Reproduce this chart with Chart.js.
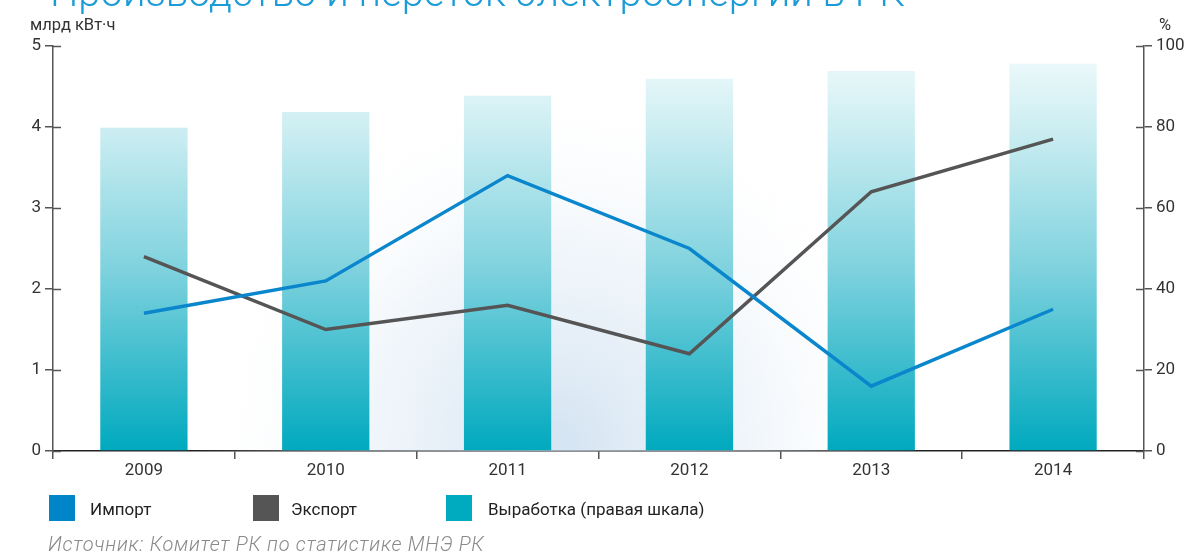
<!DOCTYPE html>
<html>
<head>
<meta charset="utf-8">
<script src="https://cdn.jsdelivr.net/npm/chart.js@4"></script>
<style>
  html, body { margin: 0; padding: 0; background: #fff; }
  #wrap { position: relative; width: 1189px; height: 555px; overflow: hidden; }
  #chart { position: absolute; left: 0; top: 0; }
  .txt { position: absolute; white-space: nowrap; font-family: 'Roboto', sans-serif; color: #333; line-height: 20px; }
  #title { left: 50px; top: -31px; font-weight: 300; font-size: 40px; line-height: 48px; color: #1b9bd7; }
  .unit { top: 15px; font-size: 16.5px; }
  .leg { top: 499px; font-size: 17px; color: #222; }
  .box { position: absolute; top: 495px; width: 26px; height: 26px; }
  #source { left: 48px; top: 534px; font-size: 20px; letter-spacing: 0.7px; font-style: italic; font-weight: 300; color: #8a8a8a; }
</style>
</head>
<body>
<div id="wrap">
  <canvas id="chart" width="1189" height="555"></canvas>
  <div class="txt" id="title">Производство и переток электроэнергии в РК</div>
  <div class="txt unit" style="left:30px">млрд кВт·ч</div>
  <div class="txt unit" style="left:1159px">%</div>
  <div class="box" style="left:49px;background:#0085c8"></div>
  <div class="txt leg" style="left:90px">Импорт</div>
  <div class="box" style="left:253px;background:#555555"></div>
  <div class="txt leg" style="left:291px">Экспорт</div>
  <div class="box" style="left:446px;background:#00abbf"></div>
  <div class="txt leg" style="left:488px">Выработка (правая шкала)</div>
  <div class="txt" id="source">Источник: Комитет РК по статистике МНЭ РК</div>
</div>
<script>
var years = ['2009', '2010', '2011', '2012', '2013', '2014'];
var importVals = [1.7, 2.1, 3.4, 2.5, 0.8, 1.75];
var exportVals = [2.4, 1.5, 1.8, 1.2, 3.2, 3.85];
var outputPct = [79.8, 83.7, 87.7, 91.9, 93.8, 95.6];

var tickFont = { family: "'Roboto', sans-serif", size: 17 };
var axisColor = '#555555';

// soft bluish glow behind the plot, plus tick marks pointing into the area
var decor = {
  id: 'decor',
  beforeDatasetsDraw: function(chart) {
    var ctx = chart.ctx, a = chart.chartArea;
    ctx.save();
    ctx.beginPath();
    ctx.rect(a.left, a.top, a.right - a.left, a.bottom - a.top);
    ctx.clip();
    var g = ctx.createRadialGradient(560, 440, 10, 560, 440, 360);
    g.addColorStop(0, 'rgba(200,220,238,0.75)');
    g.addColorStop(0.5, 'rgba(225,236,246,0.5)');
    g.addColorStop(1, 'rgba(255,255,255,0)');
    ctx.fillStyle = g;
    ctx.fillRect(a.left, a.top, a.right - a.left, a.bottom - a.top);
    ctx.restore();
  },
  afterDraw: function(chart) {
    var ctx = chart.ctx;
    var y = chart.scales.y, y1 = chart.scales.y1;
    ctx.save();
    ctx.strokeStyle = axisColor;
    ctx.lineWidth = 1.5;
    y.ticks.forEach(function(t) {
      var p = Math.round(y.getPixelForValue(t.value)) + 0.5;
      ctx.beginPath(); ctx.moveTo(y.right, p); ctx.lineTo(y.right + 8, p); ctx.stroke();
    });
    y1.ticks.forEach(function(t) {
      var p = Math.round(y1.getPixelForValue(t.value)) + 0.5;
      ctx.beginPath(); ctx.moveTo(y1.left - 8, p); ctx.lineTo(y1.left, p); ctx.stroke();
    });
    ctx.restore();
  }
};

var ctx = document.getElementById('chart').getContext('2d');
var chart = new Chart(ctx, {
  type: 'bar',
  data: {
    labels: years,
    datasets: [{
      type: 'line',
      label: 'Импорт',
      data: importVals,
      yAxisID: 'y',
      borderColor: '#0a86cc',
      borderWidth: 3.5,
      pointRadius: 0,
      tension: 0,
      order: 1
    }, {
      type: 'line',
      label: 'Экспорт',
      data: exportVals,
      yAxisID: 'y',
      borderColor: '#555555',
      borderWidth: 3.5,
      pointRadius: 0,
      tension: 0,
      order: 1
    }, {
      type: 'bar',
      label: 'Выработка (правая шкала)',
      data: outputPct,
      yAxisID: 'y1',
      categoryPercentage: 1,
      barPercentage: 0.48,
      backgroundColor: function(c) {
        var a = c.chart.chartArea;
        if (!a) return '#00abbf';
        var g = c.chart.ctx.createLinearGradient(0, a.top, 0, a.bottom);
        g.addColorStop(0, '#f3fbfc');
        g.addColorStop(0.2, '#cdeef2');
        g.addColorStop(0.55, '#7fd2de');
        g.addColorStop(1, '#00a9be');
        return g;
      },
      order: 2
    }]
  },
  options: {
    responsive: false,
    animation: false,
    layout: { padding: { top: 46, left: 0, right: 0, bottom: 0 } },
    plugins: { legend: { display: false }, tooltip: { enabled: false } },
    scales: {
      x: {
        offset: true,
        grid: { offset: true, drawOnChartArea: false, color: axisColor, lineWidth: 1.5, tickLength: 8 },
        border: { color: '#222', width: 1.5 },
        ticks: { color: '#333', font: tickFont, padding: 2 },
        afterFit: function(s) { s.height = 104; }
      },
      y: {
        position: 'left',
        min: 0, max: 5,
        ticks: { stepSize: 1, color: '#333', font: tickFont, padding: 4 },
        grid: { drawOnChartArea: false, color: axisColor, lineWidth: 1.5, tickLength: 8 },
        border: { color: axisColor, width: 1.5 },
        afterFit: function(s) { s.width = 53; }
      },
      y1: {
        position: 'right',
        min: 0, max: 100,
        ticks: { stepSize: 20, color: '#333', font: tickFont, padding: 4 },
        grid: { drawOnChartArea: false, color: axisColor, lineWidth: 1.5, tickLength: 8 },
        border: { color: axisColor, width: 1.5 },
        afterFit: function(s) { s.width = 45; }
      }
    }
  },
  plugins: [decor]
});
</script>
</body>
</html>
